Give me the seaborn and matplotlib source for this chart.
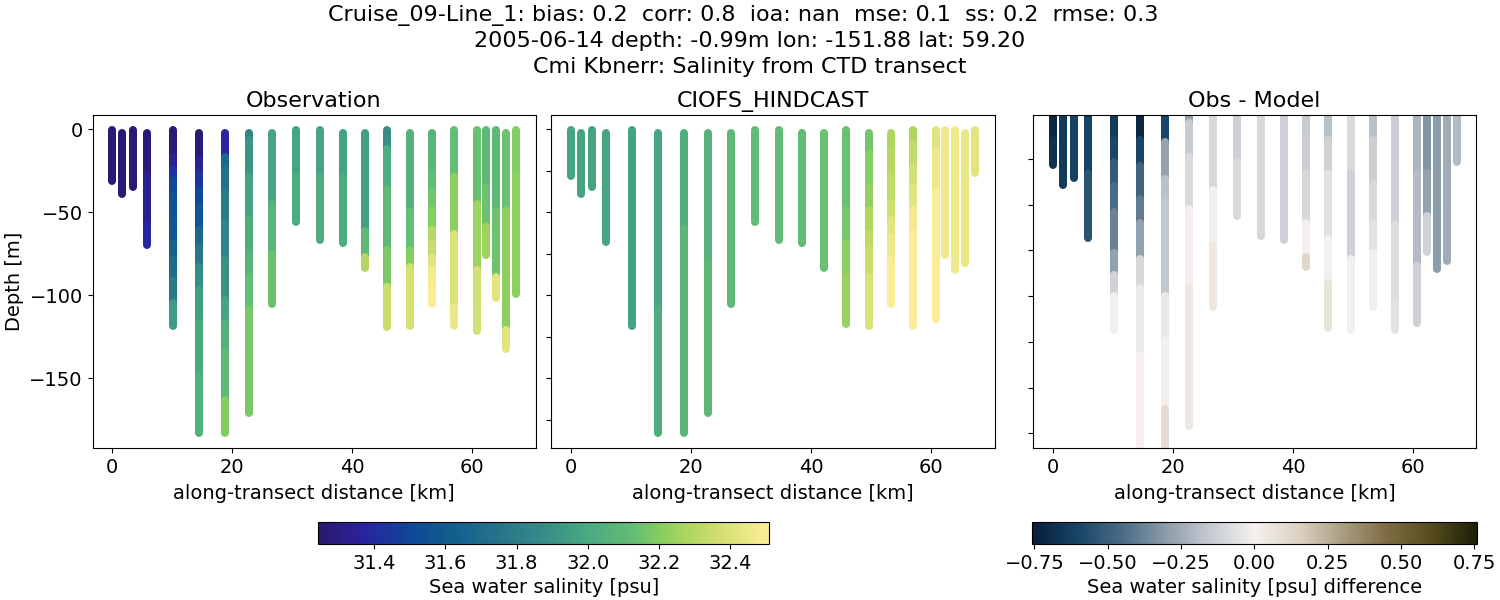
import matplotlib
matplotlib.use("Agg")
import matplotlib.pyplot as plt
from matplotlib.cm import ScalarMappable
from matplotlib.colors import LinearSegmentedColormap, Normalize
import pandas as pd
import seaborn as sns

station_km = [-0.1, 1.6, 3.4, 5.8, 10.1, 14.4, 18.7, 22.7, 26.6, 30.6, 34.6,
              38.4, 42.1, 45.8, 49.6, 53.3, 57.0, 60.7, 62.3, 63.9, 65.6, 67.3]
surface_depth = [0.5, 2, 0.5, 2, 0.5, 2, 2, 2, 2, 0.5, 0.5, 2, 2, 0.5, 2, 2, 0.5, 0.5, 0.5, 0.5, 2, 0.5]

obs_depth = [
    [30.9], [39], [35], [28, 57, 69.7],
    [16.5, 24.5, 30.5, 40.5, 54.6, 68.7, 78.7, 90.8, 104.8, 118.5],
    [17.5, 26.5, 36.5, 46.6, 60.6, 70.7, 82.7, 96.8, 116.9, 149, 182.7],
    [16.5, 24.5, 38.5, 56.6, 78.7, 102.8, 116.9, 133.9, 163, 182.7],
    [6.4, 28.5, 54.6, 74.7, 88.8, 108.8, 170.9], [45, 75, 105.4], [29, 55.8], [29, 66.7], [29, 68.7],
    [61, 77, 83.5], [12, 36, 73, 95, 119.3], [49, 73, 83, 118.5],
    [14, 28.5, 38.5, 48.6, 60.6, 68.7, 76.7, 84.7, 94.8, 105.4], [29, 63, 107, 118.3], [45, 85, 121.3],
    [35, 59, 75.7], [49, 89, 101.4], [49, 121, 132.1], [29, 99.4],
]
obs_salinity = [
    [31.27], [31.27], [31.27], [31.28, 31.33, 31.38],
    [31.27, 31.34, 31.42, 31.50, 31.56, 31.58, 31.65, 31.70, 31.78, 31.94],
    [31.27, 31.34, 31.43, 31.50, 31.57, 31.68, 31.76, 31.88, 31.96, 32.00, 32.04],
    [31.38, 31.68, 31.74, 31.79, 31.83, 31.90, 31.98, 32.04, 32.10, 32.20],
    [31.84, 31.92, 31.97, 32.03, 32.07, 32.13, 32.18], [31.98, 32.07, 32.15], [31.98, 32.02], [31.98, 32.02], [31.97, 32.01],
    [31.96, 32.10, 32.30], [31.88, 32.02, 32.10, 32.18, 32.35], [32.05, 32.13, 32.20, 32.38],
    [32.07, 32.09, 32.13, 32.16, 32.20, 32.30, 32.34, 32.42, 32.48, 32.50], [32.13, 32.22, 32.40, 32.45], [32.14, 32.25, 32.38],
    [32.10, 32.15, 32.25], [32.10, 32.15, 32.42], [32.15, 32.22, 32.42], [32.20, 32.22],
]

model_depth = [
    [27.9], [39], [35], [67.7], [118.5], [109, 182.7], [60, 182.7], [80, 170.9], [105.4],
    [55.8], [66.7], [68.7], [83.5], [48.6, 68.7, 88.8, 117.3],
    [14.5, 34.5, 48.6, 62.7, 72.7, 88.8, 108.8, 118.5],
    [12.4, 28.5, 44.6, 54.6, 64.7, 78.7, 92.8, 105.4],
    [8.4, 22.5, 34.5, 48.6, 62.7, 78.7, 118.3], [14.5, 38.6, 58.6, 114.3], [75.7], [84.5], [80.5], [26.1],
]
model_salinity = [
    [31.98], [31.98], [31.98], [31.98], [31.97], [31.99, 32.03], [32.03, 32.08], [32.06, 32.10], [32.10],
    [32.12], [32.12], [32.12], [32.14], [32.14, 32.17, 32.22, 32.24],
    [32.16, 32.20, 32.23, 32.28, 32.32, 32.35, 32.40, 32.40],
    [32.28, 32.30, 32.33, 32.37, 32.42, 32.46, 32.50, 32.50],
    [32.28, 32.33, 32.38, 32.42, 32.47, 32.50, 32.50], [32.42, 32.46, 32.50, 32.50], [32.46], [32.46], [32.44], [32.42],
]

diff_depth = [
    [17, 30.75], [41.5], [37.6], [35, 69.7],
    [17, 29, 42, 56, 78, 90, 101, 119.4],
    [17, 31, 49, 62, 81, 97, 133, 200],
    [18, 38, 49, 101, 125, 162, 200],
    [8, 26, 54, 96, 171], [44, 74, 106.8], [29, 58], [68.8], [70.8],
    [17, 35, 62, 80, 85.3], [17, 35, 71, 94, 118.5], [35, 81, 119.4],
    [17, 40, 62, 78, 106.8], [30, 63, 106, 119.4], [35, 85, 115.6],
    [35, 58, 77.6], [86.4], [35, 82.4], [28.8],
]
diff_salinity = [
    [-0.72, -0.68], [-0.65], [-0.62], [-0.62, -0.55],
    [-0.65, -0.60, -0.52, -0.45, -0.38, -0.28, -0.12, -0.01],
    [-0.72, -0.60, -0.48, -0.40, -0.28, -0.10, -0.03, 0.0],
    [-0.60, -0.28, -0.18, -0.16, -0.04, 0.0, 0.10],
    [-0.28, -0.15, -0.09, 0.0, 0.05], [-0.10, -0.01, 0.05], [-0.13, -0.09], [-0.10], [-0.13],
    [-0.15, -0.14, -0.10, 0.01, 0.13], [-0.18, -0.13, -0.06, 0.0, 0.07], [-0.09, -0.13, -0.01],
    [-0.18, -0.14, -0.10, -0.06, -0.01], [-0.14, -0.13, -0.08, -0.06], [-0.22, -0.20, -0.13],
    [-0.32, -0.28, -0.12], [-0.30], [-0.25, -0.25], [-0.20],
]

panel_titles = ["Observation", "CIOFS_HINDCAST", "Obs - Model"]
title_text = ("Cruise_09-Line_1: bias: 0.2  corr: 0.8  ioa: nan  mse: 0.1  ss: 0.2  rmse: 0.3  \n"
              "2005-06-14 depth: -0.99m lon: -151.88 lat: 59.20\n"
              "Cmi Kbnerr: Salinity from CTD transect")
haline_stops = [0.0, 0.1, 0.2, 0.3, 0.4, 0.5, 0.6, 0.7, 0.76, 0.82, 0.9, 1.0]
haline_colors = ["#29186b", "#2a23a0", "#0f4799", "#125f8e", "#267489", "#368c87",
                 "#4aaa80", "#63bd75", "#85cf5f", "#aed65f", "#d6e074", "#fdee99"]
diff_colors = ["#071e3a", "#174566", "#4a6b84", "#8b9caa", "#c6cbd1", "#f5f1ef",
               "#dcd2c2", "#a99d7f", "#7d6c42", "#574c1d", "#1c1f09"]
depth_ticks_main = [0, -25, -50, -75, -100, -125, -150, -175]
depth_ticks_diff = [-27.5, -52.3, -76.5, -101.1, -126, -150.7, -175]

sns.set_theme(style="ticks", rc={
    "font.size": 14, "axes.labelsize": 14, "axes.titlesize": 16,
    "xtick.labelsize": 14, "ytick.labelsize": 14,
    "xtick.major.size": 3.5, "ytick.major.size": 3.5,
    "xtick.major.width": 0.8, "ytick.major.width": 0.8,
    "axes.linewidth": 0.8, "axes.edgecolor": "black",
    "xtick.color": "black", "ytick.color": "black",
    "text.color": "black", "axes.labelcolor": "black",
})
plt.rcParams["font.family"] = ["DejaVu Sans"]

W, H = 1500.0, 600.0
haline = LinearSegmentedColormap.from_list("haline_like", list(zip(haline_stops, haline_colors)))
diff_cmap = LinearSegmentedColormap.from_list("diff_like", diff_colors)
sal_norm = Normalize(31.244, 32.509)
diff_norm = Normalize(-0.7575, 0.7575)


def px_axes(fig, left, top, right, bottom):
    return fig.add_axes([left / W, 1 - bottom / H, (right - left) / W, (bottom - top) / H])


def draw_panel(ax, depth_lists, value_lists, cmap, norm):
    rows, palette, seg = [], {}, 0
    for km, top, depths, values in zip(station_km, surface_depth, depth_lists, value_lists):
        upper = top
        for lower, value in zip(depths, values):
            rows.append({"km": km, "depth": -upper, "seg": seg})
            rows.append({"km": km, "depth": -lower, "seg": seg})
            palette[seg] = cmap(norm(value))
            upper = lower
            seg += 1
    frame = pd.DataFrame(rows)
    sns.lineplot(data=frame, x="km", y="depth", hue="seg", palette=palette,
                 hue_order=list(palette), sort=False, estimator=None, linewidth=5.76,
                 solid_capstyle="round", legend=False, ax=ax)


fig = plt.figure(figsize=(15, 6), dpi=100)
ax1 = px_axes(fig, 92.5, 115.3, 535.5, 448)
ax2 = px_axes(fig, 551.2, 115.3, 994.8, 448)
ax3 = px_axes(fig, 1032.7, 115.3, 1476.3, 448)

draw_panel(ax1, obs_depth, obs_salinity, haline, sal_norm)
draw_panel(ax2, model_depth, model_salinity, haline, sal_norm)
draw_panel(ax3, diff_depth, diff_salinity, diff_cmap, diff_norm)

for ax, name in zip((ax1, ax2, ax3), panel_titles):
    ax.set_title(name)
    ax.set_xlabel("along-transect distance [km]", labelpad=5)
    ax.set_ylabel("")
    ax.set_xticks([0, 20, 40, 60])
ax1.set_xlim(-3.3, 70.53)
ax2.set_xlim(-3.35, 70.58)
ax3.set_xlim(-3.43, 70.5)
ax1.set_ylim(-192, 8.4)
ax2.set_ylim(-192, 8.4)
ax3.set_ylim(-182.9, -3.8)
ax1.set_ylabel("Depth [m]")
ax1.set_yticks([0, -50, -100, -150])
ax2.set_yticks(depth_ticks_main)
ax2.set_yticklabels([])
ax3.set_yticks(depth_ticks_diff)
ax3.set_yticklabels([])

cax1 = px_axes(fig, 318.3, 522.3, 769.3, 544.3)
cb1 = fig.colorbar(ScalarMappable(norm=sal_norm, cmap=haline), cax=cax1, orientation="horizontal")
cb1.set_label("Sea water salinity [psu]", labelpad=3.5)
cb1.set_ticks([31.4, 31.6, 31.8, 32.0, 32.2, 32.4])
cax2 = px_axes(fig, 1032.3, 522.3, 1476.7, 544.3)
cb2 = fig.colorbar(ScalarMappable(norm=diff_norm, cmap=diff_cmap), cax=cax2, orientation="horizontal")
cb2.set_label("Sea water salinity [psu] difference", labelpad=3.5)
cb2.set_ticks([-0.75, -0.5, -0.25, 0, 0.25, 0.5, 0.75])

fig.text(0.5, 1 - 4.5 / H, title_text, ha="center", va="top", fontsize=16, linespacing=1.365)
fig.savefig("out.png", dpi=100)
